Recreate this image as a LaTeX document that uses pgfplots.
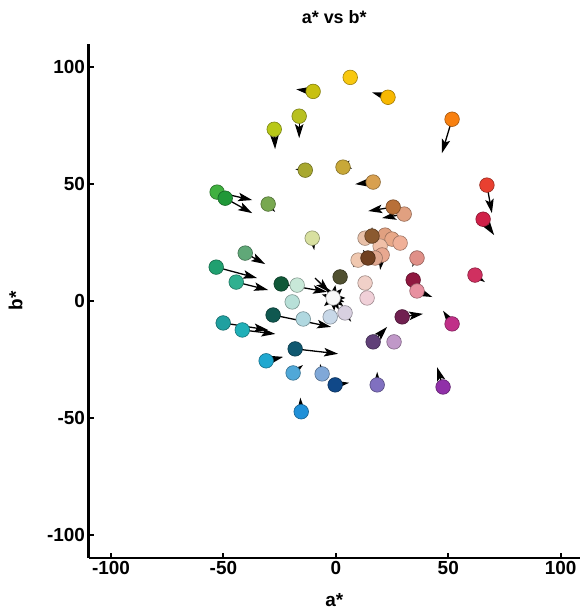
\documentclass[border=0pt]{standalone}
\usepackage{fontspec}
\setmainfont{Liberation Sans}
\usepackage{pgfplots}
\pgfplotsset{compat=1.18}
\usetikzlibrary{arrows.meta}
\begin{document}
\begin{tikzpicture}[x=1bp,y=1bp]
\path[use as bounding box] (0,0) rectangle (580,613);
\begin{axis}[
  at={(88.5bp,55bp)}, anchor=south west,
  scale only axis, width=491.5bp, height=514bp,
  xmin=-110, xmax=108.6, ymin=-110, ymax=110,
  axis lines=left, axis line style={-, line width=2.6bp},
  xtick={-100,-50,0,50,100}, ytick={-100,-50,0,50,100},
  tick align=inside, major tick length=5bp, tick style={black, line width=2bp},
  ticklabel style={font=\fontsize{19}{22}\selectfont\bfseries},
  /pgf/number format/assume math mode=true,
  xlabel={a*}, ylabel={b*}, title={a* vs b*},
  label style={font=\fontsize{19}{22}\selectfont\bfseries},
  title style={font=\fontsize{18}{22}\selectfont\bfseries, at={(axis description cs:0.5,1)}, anchor=center, yshift=21bp},
  xlabel style={at={(axis description cs:0.5,0)}, anchor=center, yshift=-42bp},
  ylabel style={at={(axis description cs:0,0.5)}, anchor=center, yshift=73bp},
  clip=false,
]
% main arrows
\addplot[black, line width=1.3bp, -{Stealth[length=14bp,width=8.5bp,inset=3bp]},
  quiver={u=\thisrow{u}, v=\thisrow{v}}] table[x=a,y=b] {
a b u v
-10.1 89.7 -7.5 0.9
23.2 87.2 -7.1 2.1
51.7 77.8 -4.5 -14.5
-27.4 73.5 0.4 -8.5
-16.3 79.1 0 -9.4
-13.6 56.0 -4.4 0.4
3.2 57.3 -2.5 -0.8
16.6 50.9 -8.0 -0.9
67.2 49.6 2.2 -12.0
65.5 35.0 4.9 -6.8
-52.8 46.6 15.6 -3.4
-49.2 44.0 12.0 -6.4
-30.1 41.5 3.1 -3.4
25.5 40.2 -11.1 -1.7
30.4 37.2 -9.8 -1.7
-10.5 26.9 0.9 -5.1
16.1 27.8 0 3.8
20.6 19.7 -0.9 -6.4
14.3 18.4 -2.2 3.5
9.9 17.5 -2.2 -3.0
36.1 18.4 -2.2 -3.8
36.1 4.3 6.8 -2.6
61.9 11.1 4.4 -3.0
29.5 -6.8 9.3 1.3
51.7 -9.8 -4.0 5.6
16.6 -17.5 6.2 6.4
18.4 -35.9 0 5.6
47.7 -36.8 -2.7 8.5
-0.3 -35.9 6.2 0.9
-40.3 20.5 8.9 -4.7
-53.2 14.5 18.2 -4.7
-44.3 8.1 14.2 -3.4
-24.3 7.3 20.4 -3.4
-27.9 -6.0 25.8 -5.1
4.1 -5.1 2.7 -3.8
-50.1 -9.4 20.0 -3.0
-41.6 -12.4 14.7 -1.7
-18.1 -20.5 19.1 -2.1
-31.0 -25.6 7.6 1.7
-19.0 -30.8 4.4 3.4
-6.1 -31.2 -0.9 4.3
-15.4 -47.4 -0.4 6.0
-9.2 9.8 6.3 -6.0
};
% short arrows of near-neutral samples round the origin
\addplot[black, line width=1.2bp, -{Stealth[length=8bp,width=6bp,inset=2bp]},
  quiver={u=\thisrow{u}, v=\thisrow{v}}] table[x=a,y=b] {
a b u v
-1.2 1.3 5.5 0.0
-1.2 1.3 4.5 -3.5
-1.2 1.3 0.5 -5.5
-1.2 1.3 -4.0 -3.5
-1.2 1.3 4.0 4.0
-1.2 1.3 -5.0 1.5
-1.2 1.3 1.0 5.5
-1.2 1.3 -3.0 4.5
-1.2 1.3 5.0 -1.8
-1.2 1.3 2.5 -5.0
};
% colour samples
\addplot[scatter, only marks, mark=*, mark size=7.3bp,
  visualization depends on={value \thisrow{c}\as\hexc},
  scatter/@pre marker code/.code={\pgfscope\definecolor{mc}{HTML}{\hexc}\colorlet{mce}{mc!65!black}\pgfsetfillcolor{mc}\pgfsetstrokecolor{mce}\pgfsetlinewidth{0.6bp}},
  scatter/@post marker code/.code={\endpgfscope}]
  table[x=a,y=b] {
a b c
6.4 95.7 F8C810
-10.1 89.7 C8C010
23.2 87.2 F8B800
51.7 77.8 F88010
-27.4 73.5 B8C818
-16.3 79.1 B8C020
-13.6 56.0 A8A830
3.2 57.3 C8A838
16.6 50.9 D8A050
67.2 49.6 E84030
65.5 35.0 D02048
-52.8 46.6 40B040
-49.2 44.0 209838
-30.1 41.5 78A850
30.4 37.2 E0A080
25.5 40.2 B87038
-10.5 26.9 D8E0A0
13.0 26.9 E8C0A8
21.9 28.2 E0A080
25.0 26.5 E8A888
28.6 24.8 F0B098
19.7 23.5 F0C0A8
20.6 19.7 E8A890
9.9 17.5 F0C8B0
17.5 18.4 E0A890
16.1 27.8 8B5A30
14.3 18.4 704020
36.1 18.4 E09088
1.9 10.3 505030
13.0 7.7 F0D0C8
13.9 1.3 F0D0D8
34.4 9.0 901840
36.1 4.3 E890A0
61.9 11.1 D03060
29.5 -6.8 702050
51.7 -9.8 C03088
16.6 -17.5 604078
25.9 -17.5 C098C8
18.4 -35.9 8070C0
47.7 -36.8 9030A8
-0.3 -35.9 104888
-40.3 20.5 60A878
-53.2 14.5 20A070
-44.3 8.1 30B090
-24.3 7.3 105838
-17.2 6.8 C8E8D8
-19.4 -0.4 B8E0D8
-1.2 1.3 F8F8F8
-27.9 -6.0 105850
-14.5 -7.7 B0D8E0
-2.5 -6.8 C8D8E8
4.1 -5.1 D8D0E0
-50.1 -9.4 20A0A0
-41.6 -12.4 20B0B8
-18.1 -20.5 105870
-31.0 -25.6 20A8D0
-19.0 -30.8 50A8D8
-6.1 -31.2 80A8D8
-15.4 -47.4 2090D8
};
\end{axis}
\end{tikzpicture}
\end{document}
